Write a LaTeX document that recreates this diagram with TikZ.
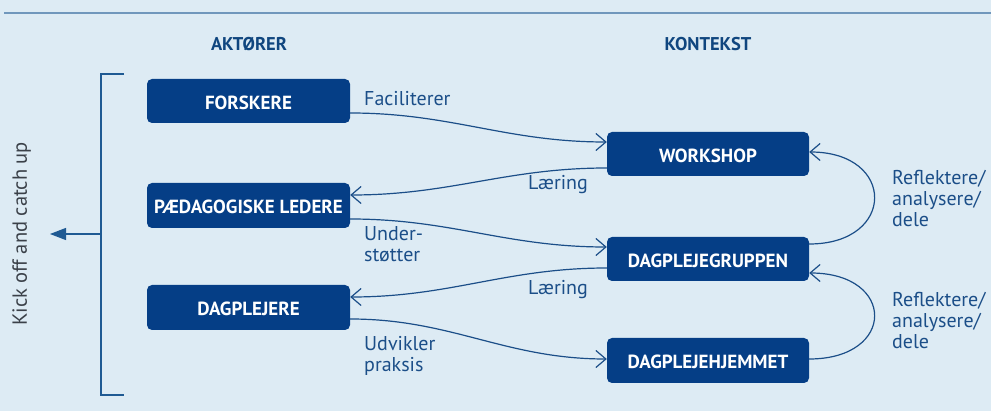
\documentclass[tikz,border=0pt]{standalone}
\usepackage{fontspec}
\setmainfont{PT Sans}
\usetikzlibrary{arrows.meta}
\definecolor{bgblue}{HTML}{DDEBF4}
\definecolor{boxblue}{HTML}{053E86}
\definecolor{labelblue}{HTML}{1B4E88}
\definecolor{rule}{HTML}{7097BC}
\definecolor{bracketblue}{HTML}{1F5A93}
\definecolor{sidegray}{HTML}{3A4048}
\definecolor{headblue}{HTML}{10467F}
\tikzset{
  stepbox/.style={rectangle, rounded corners=5pt, fill=boxblue, text=white,
    font=\fontsize{19}{22}\selectfont\bfseries, minimum width=203pt,
    minimum height=44pt, inner sep=0pt, text height=17pt, text depth=0pt},
  heading/.style={font=\fontsize{18.5}{21}\selectfont\bfseries, text=headblue},
  flowlabel/.style={font=\fontsize{20}{21}\selectfont, text=labelblue,
    align=left, inner sep=0pt},
  flow/.style={draw=labelblue, line width=1.2pt,
    -{Straight Barb[length=10pt,width=17pt,line width=1.2pt]}},
}
\begin{document}
\begin{tikzpicture}[x=1pt,y=-1pt]
  % canvas
  \fill[bgblue] (0,0) rectangle (991,411);
  \useasboundingbox (0,0) rectangle (991,411);
  \coordinate (ruleA) at (4,13);
  \coordinate (ruleB) at (991,13);
  \draw[rule, line width=2pt] (ruleA) -- (ruleB);

  % column headings
  \node[heading] (hAkt) at (249,44) {AKTØRER};
  \node[heading] (hKon) at (708,44) {KONTEKST};

  % actors
  \node[stepbox] (fors) at (248.5,101) {FORSKERE};
  \node[stepbox, minimum height=45pt] (ped) at (248.5,205.5) {PÆDAGOGISKE LEDERE};
  \node[stepbox, minimum height=45pt] (dp) at (248.5,307.5) {DAGPLEJERE};

  % contexts
  \node[stepbox, minimum width=202pt] (ws) at (708,154) {WORKSHOP};
  \node[stepbox, minimum width=202pt] (dg) at (708,259) {DAGPLEJEGRUPPEN};
  \node[stepbox, minimum width=202pt, minimum height=45pt] (dh) at (708,360.5) {DAGPLEJEHJEMMET};

  % bracket around the actors with the side arrow
  \coordinate (brTop) at (124,74);
  \coordinate (brTopL) at (101,74);
  \coordinate (brBotL) at (101,395);
  \coordinate (brBot) at (124,395);
  \coordinate (brMid) at (101,234);
  \coordinate (sideTip) at (50,234);
  \draw[bracketblue, line width=1.2pt] (brTop) -- (brTopL) -- (brBotL) -- (brBot);
  \draw[bracketblue, line width=1.2pt, -{Triangle[length=16pt,width=12pt]}] (brMid) -- (sideTip);
  \node[rotate=90, anchor=base, text=sidegray, font=\fontsize{20.5}{24}\selectfont]
    (side) at (27,234) {Kick off and catch up};

  % flows between actors and contexts
  \draw[flow] ([yshift=-12pt]fors.east) to[out=0,in=180] ([yshift=12pt]ws.west);
  \draw[flow] ([yshift=-14pt]ws.west) to[out=180,in=0] ([yshift=10.5pt]ped.east);
  \draw[flow] ([yshift=-13.5pt]ped.east) to[out=0,in=180] ([yshift=12pt]dg.west);
  \draw[flow] ([yshift=-9pt]dg.west) to[out=180,in=0] ([yshift=10.5pt]dp.east);
  \draw[flow] ([yshift=-11.5pt]dp.east) to[out=0,in=180] ([yshift=1.5pt]dh.west);

  % reflection loops
  \draw[flow] ([yshift=15pt]dg.east) .. controls +(87,0) and +(87,0) .. ([yshift=2pt]ws.east);
  \draw[flow] ([yshift=1.5pt]dh.east) .. controls +(87,0) and +(87,0) .. ([yshift=-14pt]dg.east);

  % flow labels (multi-line labels are anchored at their last baseline)
  \node[flowlabel, anchor=base west] (lFac) at (364,106) {Faciliterer};
  \node[flowlabel, anchor=base west] (lLa1) at (528,190) {Læring};
  \node[flowlabel, anchor=base west] (lUnd) at (364,261.5) {Under-\\støtter};
  \node[flowlabel, anchor=base west] (lLa2) at (528,294.5) {Læring};
  \node[flowlabel, anchor=base west] (lUdv) at (364,371.5) {Udvikler\\praksis};
  \node[flowlabel, anchor=base west] (lRef1) at (892,226.5) {Reflektere/\\analysere/\\dele};
  \node[flowlabel, anchor=base west] (lRef2) at (892,349) {Reflektere/\\analysere/\\dele};
\end{tikzpicture}
\end{document}
